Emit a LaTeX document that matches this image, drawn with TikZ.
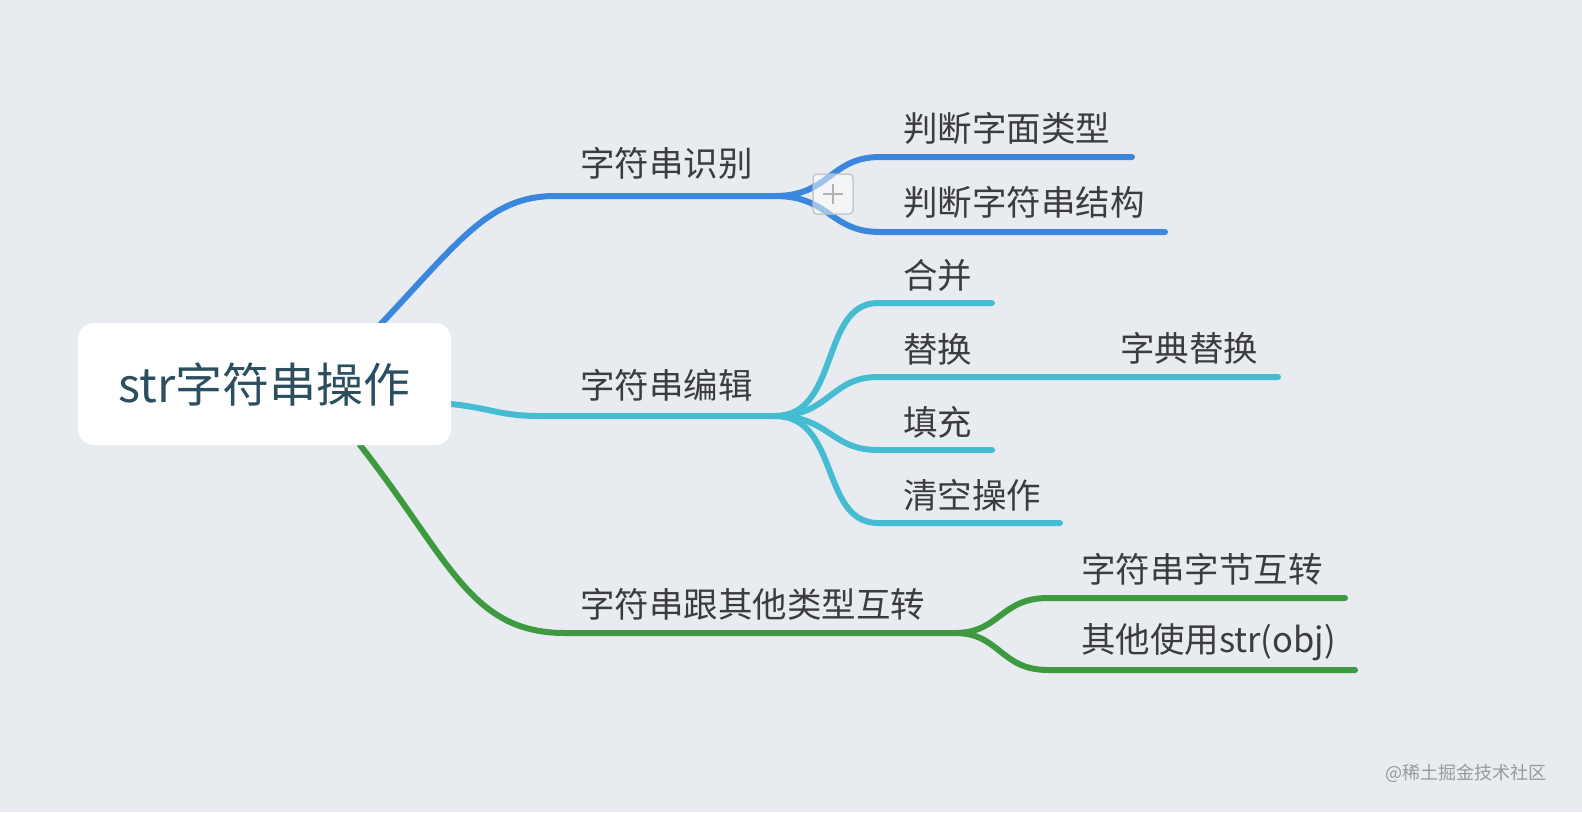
\documentclass[tikz,border=0pt]{standalone}
\usepackage{fontspec}
\setmainfont{Noto Sans CJK SC}
\definecolor{bg}{HTML}{E8ECF0}
\definecolor{cblue}{HTML}{3A87DD}
\definecolor{ccyan}{HTML}{45BCD2}
\definecolor{cgreen}{HTML}{3D9A3E}
\definecolor{ctext}{HTML}{3C3C3C}
\definecolor{croot}{HTML}{2B4F5E}
\tikzset{
 br/.style={line width=6pt,line cap=round},
 lbl/.style={anchor=west,inner sep=0pt,text=ctext,font=\fontsize{34.5}{40}\selectfont},
}
\begin{document}
\begin{tikzpicture}[x=1pt,y=-1pt]
\fill[bg] (0,0) rectangle (1582,812);
\useasboundingbox (0,0) rectangle (1582,812);
% coordinates
\coordinate (rt) at (380,325);
\coordinate (rr) at (451,404);
\coordinate (rb) at (360,445);
\coordinate (b1) at (555,196); \coordinate (b2) at (775,196);
\coordinate (c1) at (540,416); \coordinate (c2) at (775,416);
\coordinate (g1) at (565,633); \coordinate (g2) at (955,633);
% blue
\draw[br,cblue] (rt) .. controls (460,240) and (490,196) .. (b1) -- (b2);
\draw[br,cblue] (b2) .. controls (830,196) and (830,157) .. (880,157) -- (1132,157);
\draw[br,cblue] (b2) .. controls (830,196) and (830,232) .. (880,232) -- (1165,232);
% cyan
\draw[br,ccyan] (rr) .. controls (490,408) and (500,416) .. (c1) -- (c2);
\draw[br,ccyan] (c2) .. controls (840,416) and (820,303) .. (878,303) -- (992,303);
\draw[br,ccyan] (c2) .. controls (830,416) and (830,377) .. (878,377) -- (1278,377);
\draw[br,ccyan] (c2) .. controls (830,416) and (830,450) .. (878,450) -- (992,450);
\draw[br,ccyan] (c2) .. controls (840,416) and (820,523) .. (878,523) -- (1060,523);
% green
\draw[br,cgreen] (rb) .. controls (450,560) and (470,633) .. (g1) -- (g2);
\draw[br,cgreen] (g2) .. controls (1000,633) and (1000,598) .. (1048,598) -- (1345,598);
\draw[br,cgreen] (g2) .. controls (1000,633) and (1000,670) .. (1048,670) -- (1355,670);
% root
\node[fill=white,rounded corners=16pt,minimum width=373pt,minimum height=122pt,inner sep=0pt,
 text=croot,font=\fontsize{47}{54}\selectfont] (root) at (264.5,384) {str字符串操作};
% labels
\node[lbl] (t1) at (580,163) {字符串识别};
\node[lbl] (t11) at (903,128) {判断字面类型};
\node[lbl] (t12) at (903,202) {判断字符串结构};
\node[lbl] (t2) at (580,385) {字符串编辑};
\node[lbl] (t21) at (903,275) {合并};
\node[lbl] (t22) at (903,349) {替换};
\node[lbl] (t221) at (1120,348) {字典替换};
\node[lbl] (t23) at (903,422) {填充};
\node[lbl] (t24) at (903,495) {清空操作};
\node[lbl] (t3) at (580,604) {字符串跟其他类型互转};
\node[lbl] (t31) at (1081,569) {字符串字节互转};
\node[lbl] (t32) at (1081,642) {其他使用str(obj)};
% plus icon
\node[draw=gray!50,fill=white,fill opacity=0.5,draw opacity=0.8,rounded corners=4pt,minimum size=40pt,inner sep=0pt,line width=1.5pt] (plus) at (833,194) {};
\draw[gray!60,line width=1.5pt] ([xshift=-10pt]plus.center) -- ([xshift=10pt]plus.center);
\draw[gray!60,line width=1.5pt] ([yshift=-10pt]plus.center) -- ([yshift=10pt]plus.center);
% watermark
\node[anchor=east,inner sep=0pt,text=gray!80,font=\fontsize{18}{22}\selectfont] (wm) at (1547,773) {@稀土掘金技术社区};
\end{tikzpicture}
\end{document}
